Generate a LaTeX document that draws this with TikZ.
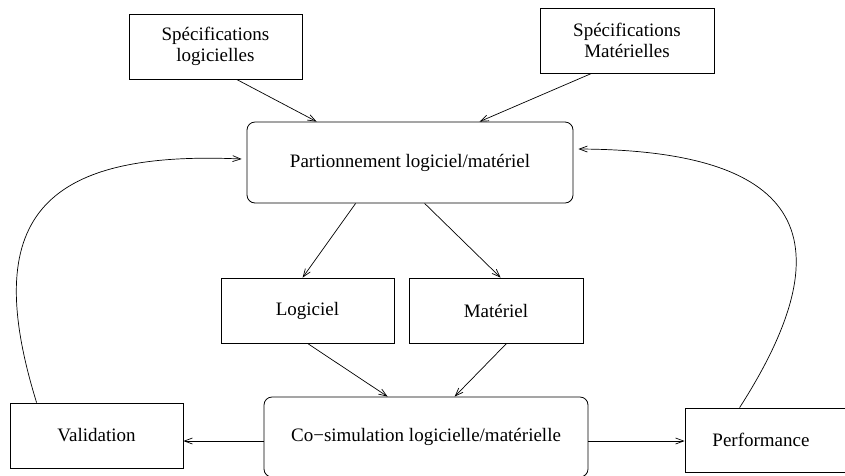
\documentclass[tikz,border=0pt]{standalone}
\usepackage{fontspec}
\setmainfont{Liberation Serif}
\usetikzlibrary{arrows.meta}
\tikzset{
  box/.style={draw, line width=0.8pt, rectangle, align=center, inner sep=0pt},
  rbox/.style={box, rounded corners=8pt},
  conn/.style={line width=0.7pt, -{Straight Barb[length=8pt,width=6pt]}}
}
\begin{document}
\begin{tikzpicture}[x=1pt, y=-1pt, font=\fontsize{19}{21}\selectfont]
\useasboundingbox (0,0) rectangle (845,475);
\node[box, minimum width=173pt, minimum height=65pt] (sl) at (215.5,46.5) {Spécifications\\logicielles};
\node[box, minimum width=174pt, minimum height=65pt] (sm) at (627,40.5) {Spécifications\\Matérielles};
\node[rbox, minimum width=326pt, minimum height=81pt] (part) at (410,162.5) {Partionnement logiciel/matériel};
\node[box, minimum width=173pt, minimum height=65pt] (log) at (307.5,310.5) {Logiciel};
\node[box, minimum width=174pt, minimum height=65pt] (mat) at (496,310.5) {Matériel};
\node[rbox, minimum width=324pt, minimum height=80pt] (cosim) at (426,437) {Co−simulation logicielle/matérielle};
\node[box, minimum width=173pt, minimum height=65pt] (val) at (96.5,435.5) {Validation};
\node[box, minimum width=165pt, minimum height=64pt] (perf) at (767.5,440) {\hspace*{-13pt}Performance};

\draw[conn] ([xshift=108pt]sl.south west) -- ([xshift=70pt]part.north west);
\draw[conn] ([xshift=52pt]sm.south west) -- ([xshift=233pt]part.north west);
\draw[conn] ([xshift=109pt]part.south west) -- ([xshift=82pt]log.north west);
\draw[conn] ([xshift=178pt]part.south west) -- ([xshift=92pt]mat.north west);
\draw[conn] (log.south) -- ([xshift=124pt]cosim.north west);
\draw[conn] ([xshift=98pt]mat.south west) -- ([xshift=191pt]cosim.north west);
\draw[conn] ([yshift=-4pt]cosim.west) -- ([yshift=-4pt]cosim.west -| val.east);
\draw[conn] ([yshift=-4pt]cosim.east) -- ([yshift=-4pt]cosim.east -| perf.west);
\draw[conn] ([xshift=27pt]val.north west) .. controls (-20,220) and (40,150) .. ([xshift=-5pt,yshift=3.5pt]part.west);
\draw[conn] ([xshift=55pt]perf.north west) .. controls (860,220) and (780,150) .. ([xshift=5pt,yshift=13.5pt]part.east);
\end{tikzpicture}
\end{document}
